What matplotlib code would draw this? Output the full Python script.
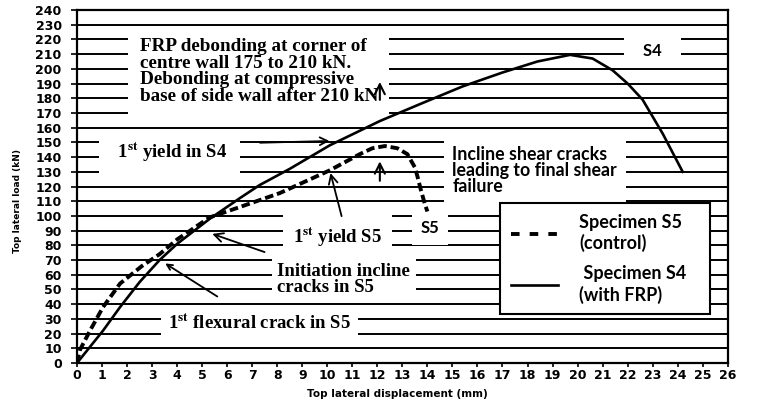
import matplotlib.pyplot as plt
from matplotlib.lines import Line2D

# values: displacement (mm) / load (kN)
s4_disp = [0, 1.04, 1.72, 2.5, 3.3, 4.0, 5.3, 6.5, 7.3, 8.5, 10.1, 12.1, 13.7,
           15.4, 17.0, 18.4, 19.7, 20.6, 21.4, 22.0, 22.6, 23.4, 24.2]
s4_load = [0, 22, 38, 55, 70, 81, 98, 112, 121, 132, 148, 164.5, 176,
           188, 197.5, 205, 209.5, 207, 199, 190, 179, 156, 130]

s5_disp = [0, 0.12, 0.52, 1.04, 1.72, 2.6, 3.3, 4.0, 5.3, 6.5, 8.1, 10.1, 11.3,
           11.8, 12.3, 12.8, 13.2, 13.5, 13.6, 13.75, 13.9, 14.0]
s5_load = [0, 9, 22, 38, 54, 66, 74, 84, 99, 106, 115.5, 131, 142,
           146, 147.5, 146, 142, 133, 127, 117, 108, 103]

x_ticks = list(range(0, 27))
y_ticks = list(range(0, 241, 10))

plt.rcParams["mathtext.fontset"] = "stix"
SERIF = "Liberation Serif"
SANS = "Lato"

fig = plt.figure(figsize=(7.67, 4.0), dpi=100)
ax = fig.add_axes([0.1004, 0.0925, 0.8484, 0.8825])

ax.set_xlim(0, 26)
ax.set_ylim(0, 240)
ax.set_xticks(x_ticks)
ax.set_yticks(y_ticks)
ax.tick_params(axis="both", length=3, width=1.2, labelsize=9)
ax.tick_params(axis="x", pad=1.5)
ax.tick_params(axis="y", length=4, pad=7)
for lab in ax.get_xticklabels() + ax.get_yticklabels():
    lab.set_fontweight("bold")
for sp in ax.spines.values():
    sp.set_linewidth(1.6)

for yv in y_ticks[1:-1]:
    ax.axhline(yv, color="black", lw=1.4, zorder=1)

ax.set_xlabel("Top lateral displacement (mm)", fontsize=7.5, fontweight="bold")
ax.xaxis.set_label_coords(0.493, -0.075)
ax.set_ylabel("Top lateral load (kN)", fontsize=6.5, fontweight="bold")
ax.yaxis.set_label_coords(-0.084, 0.46)

ax.plot(s4_disp, s4_load, color="black", lw=1.9, zorder=4)
ax.plot(s5_disp, s5_load, color="black", lw=2.8, ls=(0, (2.2, 1.0)), zorder=4)

ax.text(2.5, 221,
        "FRP debonding at corner of\ncentre wall 175 to 210 kN.\n"
        "Debonding at compressive\nbase of side wall after 210 kN",
        family=SERIF, fontweight="bold", fontsize=13.8, linespacing=0.97,
        va="top", ha="left", zorder=2,
        bbox=dict(facecolor="white", edgecolor="none", pad=8))

ax.text(23.0, 212, "   S4   ", family=SANS, fontweight="bold", fontsize=12,
        ha="center", va="center", zorder=2,
        bbox=dict(facecolor="white", edgecolor="none", pad=5))

ax.text(3.7, 143, "  1$^{\\mathbf{st}}$ yield in S4  ", family=SERIF,
        fontweight="bold", fontsize=13.5, ha="center", va="center", zorder=2,
        bbox=dict(facecolor="white", edgecolor="none", pad=6))
ax.annotate("", xy=(10.2, 151), xytext=(7.2, 149.7),
            arrowprops=dict(arrowstyle="->", lw=1.3, color="black",
                            mutation_scale=14), zorder=5)

ax.text(10.4, 85.7, "1$^{\\mathbf{st}}$ yield S5", family=SERIF,
        fontweight="bold", fontsize=13.5, ha="center", va="center", zorder=2,
        bbox=dict(facecolor="white", edgecolor="none", pad=7))
ax.annotate("", xy=(10.1, 131), xytext=(10.6, 98),
            arrowprops=dict(arrowstyle="->", lw=1.3, color="black",
                            mutation_scale=16), zorder=5)

ax.text(14.1, 91.5, "S5", family=SANS, fontweight="bold", fontsize=12,
        ha="center", va="center", zorder=2,
        bbox=dict(facecolor="white", edgecolor="none", pad=6))

ax.text(8.0, 57, "Initiation incline\ncracks in S5", family=SERIF,
        fontweight="bold", fontsize=13.5, linespacing=0.9,
        ha="left", va="center", zorder=2,
        bbox=dict(facecolor="white", edgecolor="none", pad=4))
ax.annotate("", xy=(5.3, 88.4), xytext=(7.6, 74.8),
            arrowprops=dict(arrowstyle="->", lw=1.3, color="black",
                            mutation_scale=16), zorder=5)

ax.text(7.3, 27.2, "1$^{\\mathbf{st}}$ flexural crack in S5", family=SERIF,
        fontweight="bold", fontsize=13.5, ha="center", va="center", zorder=2,
        bbox=dict(facecolor="white", edgecolor="none", pad=5))
ax.annotate("", xy=(3.43, 68.7), xytext=(5.7, 44.2),
            arrowprops=dict(arrowstyle="->", lw=1.3, color="black",
                            mutation_scale=10), zorder=5)

ax.text(15.0, 131, "Incline shear cracks\nleading to final shear\nfailure",
        family=SANS, fontweight="bold", fontsize=12.8, linespacing=0.95,
        ha="left", va="center", zorder=2,
        bbox=dict(facecolor="white", edgecolor="none", pad=6))
ax.annotate("", xy=(12.1, 139), xytext=(12.1, 122),
            arrowprops=dict(arrowstyle="->", lw=1.5, color="black",
                            mutation_scale=18), zorder=5)
ax.annotate("", xy=(12.1, 193), xytext=(12.1, 177),
            arrowprops=dict(arrowstyle="->", lw=1.5, color="black",
                            mutation_scale=18), zorder=5)

handles = [
    Line2D([], [], color="black", lw=2.8, ls=(0, (2.2, 2.6))),
    Line2D([], [], color="black", lw=1.9),
]
leg = ax.legend(handles, ["Specimen S5\n(control)", " Specimen S4\n(with FRP)"],
                loc="upper left", bbox_to_anchor=(16.9, 108.8, 8.4, 0),
                bbox_transform=ax.transData, mode="expand", borderaxespad=0,
                handlelength=2.6, handletextpad=1.2, labelspacing=0.75,
                borderpad=0.6, fancybox=False, framealpha=1, edgecolor="black",
                prop=dict(family=SANS, weight="bold", size=13))
leg.get_frame().set_linewidth(1.5)
leg.set_zorder(6)

fig.savefig("out.png", dpi=100)
